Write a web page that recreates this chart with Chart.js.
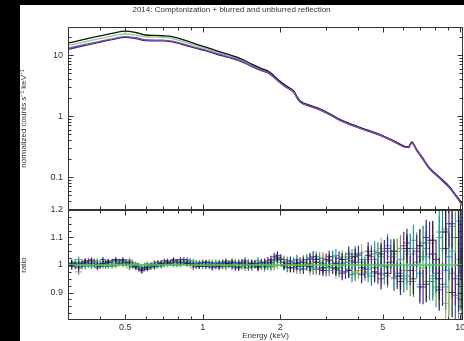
<!DOCTYPE html>
<html>
<head>
<meta charset="utf-8">
<script src="https://cdn.jsdelivr.net/npm/chart.js@4.4.0/dist/chart.umd.min.js"></script>
<style>
  html, body { margin: 0; padding: 0; background: #000; }
  #wrap { position: relative; width: 464px; height: 341px; overflow: hidden; }
  #paper { position: absolute; left: 20px; top: 5px; width: 444px; height: 336px; background: #fff; }
  canvas { position: absolute; left: 0; top: 0; }
</style>
</head>
<body>
<div id="wrap">
  <div id="paper"></div>
  <canvas id="spec" width="464" height="341"></canvas>
  <canvas id="ratio" width="464" height="341"></canvas>
</div>
<script>
// energy range shown on both panels (keV)
const energyRange = [0.307, 10.25];

// upper panel: unfolded spectra
const specEnergy = [0.3, 0.35, 0.4, 0.45, 0.5, 0.55, 0.6, 0.65, 0.7, 0.76, 0.85, 0.93, 1.02, 1.15, 1.25, 1.375, 1.55, 1.7, 1.8, 1.9, 1.96, 2.1, 2.26, 2.33, 2.4, 2.55, 2.79, 3.1, 3.42, 4.0, 4.88, 5.5, 6.09, 6.3, 6.48, 6.78, 7.1, 7.6, 8.3, 9.07, 9.6, 10.2, 10.5];
const specBlack = [15.6, 18.2, 20.6, 22.9, 24.7, 23.4, 21.3, 21.0, 20.7, 20.0, 17.5, 15.4, 13.6, 11.5, 10.3, 9.1, 7.1, 5.95, 5.42, 4.5, 3.98, 3.16, 2.55, 2.04, 1.74, 1.55, 1.36, 1.1, 0.875, 0.67, 0.497, 0.395, 0.318, 0.314, 0.376, 0.281, 0.213, 0.141, 0.1, 0.07, 0.051, 0.036, 0.029];
const specGreen = [14.2, 16.5, 18.6, 20.6, 22.1, 21.2, 19.9, 19.7, 19.5, 18.8, 16.3, 14.5, 12.9, 11.0, 9.9, 8.8, 6.9, 5.8, 5.3, 4.4, 3.9, 3.1, 2.5, 2.0, 1.71, 1.52, 1.34, 1.08, 0.86, 0.66, 0.49, 0.39, 0.314, 0.31, 0.371, 0.277, 0.21, 0.139, 0.098, 0.069, 0.05, 0.035, 0.028];
const specBlue = [12.4, 14.4, 16.3, 18.1, 19.5, 18.6, 17.2, 17.0, 17.0, 16.4, 14.6, 13.1, 11.8, 10.1, 9.2, 8.2, 6.5, 5.5, 5.05, 4.22, 3.76, 3.0, 2.43, 1.95, 1.67, 1.49, 1.31, 1.06, 0.845, 0.65, 0.482, 0.384, 0.309, 0.305, 0.364, 0.272, 0.206, 0.136, 0.096, 0.067, 0.049, 0.034, 0.027];
const specPurple = [12.9, 14.9, 16.8, 18.6, 20.1, 19.2, 17.8, 17.6, 17.5, 16.9, 15.0, 13.5, 12.1, 10.4, 9.4, 8.4, 6.6, 5.6, 5.12, 4.28, 3.8, 3.03, 2.45, 1.96, 1.68, 1.5, 1.32, 1.07, 0.85, 0.652, 0.485, 0.386, 0.311, 0.307, 0.367, 0.274, 0.208, 0.137, 0.097, 0.068, 0.0495, 0.0345, 0.0275];

// lower panel: data/model ratios, two interleaved binnings
const ratioEnergy = [0.31, 0.33, 0.35, 0.37, 0.39, 0.41, 0.43, 0.46, 0.49, 0.52, 0.55, 0.58, 0.61, 0.65, 0.69, 0.73, 0.77, 0.82, 0.87, 0.92, 0.97, 1.03, 1.09, 1.16, 1.23, 1.3, 1.38, 1.46, 1.55, 1.64, 1.74, 1.84, 1.95, 2.07, 2.19, 2.32, 2.46, 2.61, 2.76, 2.93, 3.1, 3.29, 3.48, 3.69, 3.91, 4.14, 4.39, 4.65, 4.93, 5.22, 5.53, 5.86, 6.21, 6.58, 6.97, 7.38, 7.82, 8.29, 8.78, 9.3, 9.85, 10.15];
const ratioErr = [0.012, 0.011, 0.01, 0.01, 0.009, 0.009, 0.009, 0.008, 0.008, 0.008, 0.008, 0.008, 0.008, 0.008, 0.008, 0.008, 0.008, 0.008, 0.008, 0.009, 0.009, 0.009, 0.01, 0.01, 0.01, 0.011, 0.011, 0.012, 0.012, 0.013, 0.014, 0.014, 0.015, 0.015, 0.016, 0.017, 0.018, 0.019, 0.02, 0.021, 0.022, 0.024, 0.025, 0.027, 0.029, 0.031, 0.033, 0.036, 0.039, 0.042, 0.045, 0.049, 0.052, 0.056, 0.06, 0.065, 0.07, 0.076, 0.082, 0.09, 0.1, 0.11];
const ratioA = [1.005, 0.99, 1.01, 1.015, 1.0, 1.005, 1.01, 1.02, 1.015, 1.01, 0.995, 0.985, 0.99, 1.0, 1.005, 1.01, 1.015, 1.01, 1.005, 1.0, 0.995, 1.01, 1.0, 0.995, 1.005, 1.01, 0.99, 1.0, 1.005, 0.995, 1.0, 1.01, 1.025, 1.0, 0.99, 1.005, 1.01, 0.995, 1.02, 0.99, 1.015, 0.985, 1.02, 0.98, 1.03, 0.99, 1.035, 0.975, 1.04, 0.97, 1.05, 0.96, 1.06, 0.95, 1.07, 0.93, 1.09, 0.95, 1.12, 0.9, 1.1, 0.95];
const ratioB = [1.0, 0.975, 1.005, 1.02, 1.01, 0.995, 1.005, 1.0, 1.01, 1.005, 1.0, 0.99, 0.995, 1.005, 1.01, 1.0, 1.005, 1.015, 1.0, 0.99, 1.005, 1.0, 1.01, 0.99, 1.0, 1.005, 1.0, 0.99, 1.01, 1.0, 0.995, 1.005, 1.03, 1.01, 1.0, 0.985, 1.015, 1.005, 0.99, 1.025, 0.98, 1.01, 0.975, 1.03, 1.0, 0.97, 1.02, 1.04, 0.965, 1.01, 0.955, 1.06, 0.98, 1.04, 0.93, 1.08, 0.96, 0.92, 1.13, 0.97, 0.88, 1.05];
const ratioC = [1.01, 1.02, 0.995, 1.0, 1.015, 1.01, 0.995, 1.005, 1.0, 0.99, 1.005, 0.975, 1.0, 1.01, 0.995, 1.005, 1.01, 1.0, 1.015, 1.005, 0.995, 1.0, 1.005, 1.01, 0.995, 1.0, 1.01, 1.005, 0.995, 1.01, 1.005, 0.995, 1.015, 1.02, 1.005, 0.995, 1.0, 1.02, 0.985, 1.005, 1.02, 0.99, 1.005, 1.025, 0.97, 1.01, 0.985, 1.02, 1.03, 0.96, 1.04, 0.97, 1.05, 0.94, 1.03, 1.06, 0.95, 1.1, 0.92, 1.14, 0.96, 1.08];
const ratioD = [0.995, 1.005, 1.015, 1.005, 0.99, 1.02, 1.01, 1.015, 1.02, 1.0, 0.99, 0.98, 0.985, 0.995, 1.0, 1.015, 1.02, 1.02, 1.01, 1.0, 1.005, 0.995, 0.99, 1.005, 1.01, 0.995, 1.005, 1.015, 1.0, 0.99, 1.01, 1.02, 1.035, 1.0, 1.015, 1.0, 0.985, 1.025, 1.01, 0.98, 1.03, 1.005, 0.97, 1.04, 1.01, 0.965, 1.05, 0.99, 0.95, 1.06, 1.0, 0.94, 1.08, 1.0, 0.92, 1.1, 1.04, 0.91, 1.06, 1.15, 0.93, 1.12];
const ratioE = [1.0, 1.01, 1.0, 0.995, 1.005, 1.0, 1.015, 1.01, 1.005, 1.015, 0.995, 0.99, 1.005, 0.99, 1.005, 1.01, 1.0, 1.005, 1.02, 1.01, 1.0, 1.005, 0.995, 1.0, 1.015, 1.005, 0.995, 1.0, 1.005, 1.015, 0.99, 1.0, 1.02, 0.995, 1.01, 1.02, 0.995, 0.99, 1.03, 1.0, 0.99, 1.035, 1.0, 0.985, 1.04, 1.02, 0.97, 1.05, 1.0, 1.07, 0.95, 1.02, 0.96, 1.09, 0.97, 1.03, 0.94, 1.12, 0.98, 1.05, 1.16, 0.9];
const ratioF = [1.005, 1.0, 1.01, 1.01, 0.995, 1.015, 1.0, 0.995, 1.005, 1.02, 1.0, 0.995, 0.99, 1.0, 1.01, 1.005, 1.01, 1.0, 1.005, 1.015, 1.01, 0.995, 1.005, 1.0, 0.99, 1.015, 1.005, 1.01, 0.99, 1.005, 1.01, 0.99, 1.0, 1.01, 0.99, 1.015, 1.02, 0.98, 1.01, 1.015, 0.995, 0.975, 1.03, 1.01, 0.975, 1.045, 0.99, 0.97, 1.06, 0.99, 1.03, 0.95, 1.04, 0.98, 1.07, 0.94, 1.08, 0.97, 0.86, 1.1, 1.02, 0.84];

const ratioEnergy2 = [0.32, 0.34, 0.36, 0.38, 0.40, 0.42, 0.445, 0.475, 0.505, 0.535, 0.565, 0.595, 0.63, 0.67, 0.71, 0.75, 0.795, 0.845, 0.895, 0.945, 1.0, 1.06, 1.125, 1.195, 1.265, 1.34, 1.42, 1.505, 1.595, 1.69, 1.79, 1.895, 2.01, 2.13, 2.255, 2.39, 2.535, 2.685, 2.845, 3.015, 3.195, 3.385, 3.585, 3.8, 4.025, 4.265, 4.52, 4.79, 5.075, 5.375, 5.695, 6.035, 6.395, 6.775, 7.175, 7.6, 8.055, 8.535, 9.04, 9.575, 10.0];
const ratioErr2 = [0.011, 0.01, 0.01, 0.009, 0.009, 0.009, 0.008, 0.008, 0.008, 0.008, 0.008, 0.008, 0.008, 0.008, 0.008, 0.008, 0.008, 0.008, 0.009, 0.009, 0.009, 0.01, 0.01, 0.01, 0.011, 0.011, 0.012, 0.012, 0.013, 0.013, 0.014, 0.015, 0.015, 0.016, 0.017, 0.018, 0.019, 0.02, 0.021, 0.022, 0.023, 0.025, 0.026, 0.028, 0.03, 0.032, 0.035, 0.038, 0.041, 0.044, 0.047, 0.05, 0.054, 0.058, 0.063, 0.068, 0.073, 0.079, 0.086, 0.095, 0.105];
const ratioG = [1.0, 1.005, 1.015, 1.0, 0.995, 1.01, 1.015, 1.005, 1.01, 1.0, 0.985, 0.99, 1.0, 1.01, 1.015, 1.005, 1.01, 1.02, 1.005, 0.995, 1.01, 1.0, 0.995, 1.01, 1.005, 0.99, 1.01, 1.0, 1.005, 1.01, 1.015, 1.03, 1.02, 1.005, 0.99, 1.01, 1.0, 1.03, 0.985, 1.02, 0.99, 1.025, 0.975, 1.015, 1.04, 0.985, 1.03, 0.97, 1.05, 1.01, 0.96, 1.07, 0.98, 1.05, 0.92, 1.09, 1.02, 0.93, 1.15, 0.95, 1.06];
const ratioH = [1.01, 0.995, 1.0, 1.01, 1.005, 0.995, 1.0, 1.01, 1.005, 0.995, 1.0, 0.985, 0.995, 1.0, 1.005, 1.01, 1.0, 1.01, 1.015, 1.005, 0.995, 1.01, 1.005, 0.995, 1.0, 1.01, 1.005, 0.99, 1.0, 1.005, 0.995, 1.015, 1.025, 0.99, 1.01, 0.995, 1.02, 0.985, 1.01, 0.98, 1.03, 0.99, 1.01, 0.965, 1.035, 1.0, 0.96, 1.045, 0.995, 1.05, 0.97, 0.95, 1.06, 1.01, 1.08, 0.94, 0.97, 1.12, 1.03, 0.89, 1.08];
const ratioI = [0.995, 1.01, 1.005, 1.015, 1.0, 1.005, 0.995, 1.015, 1.0, 1.01, 0.995, 1.0, 0.99, 0.995, 1.0, 1.005, 1.015, 1.005, 1.0, 1.01, 1.0, 0.995, 1.01, 1.0, 1.005, 1.0, 0.995, 1.01, 1.005, 0.995, 1.005, 0.995, 1.01, 1.015, 1.0, 0.985, 1.005, 1.01, 1.025, 0.99, 1.005, 0.98, 1.02, 1.03, 0.98, 0.975, 1.04, 1.0, 0.97, 1.03, 1.05, 0.98, 0.94, 1.06, 0.99, 1.04, 0.92, 1.06, 0.9, 1.1, 0.94];
const modelRatio = 1;

// ticks
const xMajor = [0.5, 1, 2, 5, 10];
const xMinor = [0.4, 0.6, 0.7, 0.8, 0.9, 3, 4, 6, 7, 8, 9];
const ySpecMajor = [0.1, 1, 10];
const ySpecMinor = [0.03, 0.04, 0.05, 0.06, 0.07, 0.08, 0.09, 0.2, 0.3, 0.4, 0.5, 0.6, 0.7, 0.8, 0.9, 2, 3, 4, 5, 6, 7, 8, 9, 20];
const yRatioMajor = [0.9, 1, 1.1, 1.2];
const yRatioMinor = [0.825, 0.85, 0.875, 0.925, 0.95, 0.975, 1.025, 1.05, 1.075, 1.125, 1.15, 1.175];

const FONT = "'Liberation Sans', Arial, sans-serif";
const INK = '#333';

function points(xs, ys) {
    return xs.map((x, i) => ({x: x, y: ys[i]}));
}

// frame with inward tick marks on all four sides
function frameTicks(yMajor, yMinor) {
    return {
        id: 'frameTicks',
        afterDraw(chart) {
            const ctx = chart.ctx;
            const a = chart.chartArea;
            const xs = chart.scales.x, ys = chart.scales.y;
            const L = Math.round(a.left) + 0.5, R = Math.round(a.right) - 0.5;
            const T = Math.round(a.top) + 0.5, B = Math.round(a.bottom) - 0.5;
            ctx.save();
            ctx.strokeStyle = INK;
            ctx.lineWidth = 1;
            ctx.strokeRect(L, T, R - L, B - T);
            ctx.beginPath();
            const vx = (vals, len) => vals.forEach(v => {
                const p = Math.round(xs.getPixelForValue(v)) + 0.5;
                if (p < L || p > R) return;
                ctx.moveTo(p, T); ctx.lineTo(p, T + len);
                ctx.moveTo(p, B); ctx.lineTo(p, B - len);
            });
            const vy = (vals, len) => vals.forEach(v => {
                const p = Math.round(ys.getPixelForValue(v)) + 0.5;
                if (p < T || p > B) return;
                ctx.moveTo(L, p); ctx.lineTo(L + len, p);
                ctx.moveTo(R, p); ctx.lineTo(R - len, p);
            });
            vx(xMajor, 5); vx(xMinor, 3);
            vy(yMajor, 5); vy(yMinor, 3);
            ctx.stroke();
            ctx.restore();
        }
    };
}

// error crosses for the ratio data
const errorCrosses = {
    id: 'errorCrosses',
    beforeDatasetsDraw(chart) {
        const ctx = chart.ctx;
        const a = chart.chartArea;
        const xs = chart.scales.x, ys = chart.scales.y;
        ctx.save();
        ctx.beginPath();
        ctx.rect(a.left, a.top, a.right - a.left, a.bottom - a.top);
        ctx.clip();
        chart.data.datasets.forEach(ds => {
            if (!ds.errors) return;
            ctx.strokeStyle = ds.borderColor;
            ctx.lineWidth = 1.2;
            ctx.beginPath();
            ds.data.forEach((pt, i) => {
                const px = xs.getPixelForValue(pt.x);
                ctx.moveTo(px, ys.getPixelForValue(pt.y + ds.errors[i]));
                ctx.lineTo(px, ys.getPixelForValue(pt.y - ds.errors[i]));
            });
            ctx.stroke();
            ctx.lineWidth = 0.8;
            ctx.beginPath();
            ds.data.forEach((pt, i) => {
                const e0 = i > 0 ? Math.sqrt(ds.data[i - 1].x * pt.x) : pt.x * 0.97;
                const e1 = i < ds.data.length - 1 ? Math.sqrt(ds.data[i + 1].x * pt.x) : pt.x * 1.03;
                const py = ys.getPixelForValue(pt.y);
                ctx.moveTo(xs.getPixelForValue(e0), py);
                ctx.lineTo(xs.getPixelForValue(e1), py);
            });
            ctx.stroke();
        });
        ctx.restore();
    }
};

const lineStyle = {pointRadius: 0, borderWidth: 1.3, fill: false, cubicInterpolationMode: 'monotone'};

new Chart(document.getElementById('spec'), {
    type: 'line',
    data: {
        datasets: [
            Object.assign({data: points(specEnergy, specPurple), borderColor: '#8a4aa8'}, lineStyle),
            Object.assign({data: points(specEnergy, specBlue), borderColor: '#26268a'}, lineStyle),
            Object.assign({data: points(specEnergy, specBlack), borderColor: '#111111'}, lineStyle),
            Object.assign({data: points(specEnergy, specGreen), borderColor: '#86d486'}, lineStyle)
        ]
    },
    options: {
        responsive: false,
        animation: false,
        events: [],
        layout: {padding: {left: 0, right: 1, top: 0, bottom: 131}},
        plugins: {
            legend: {display: false},
            tooltip: {enabled: false},
            title: {
                display: true,
                text: '2014: Comptonization + blurred and unblurred reflection',
                color: INK,
                font: {family: FONT, size: 8, weight: 'normal'},
                padding: {top: 5, bottom: 12.4}
            }
        },
        scales: {
            x: {type: 'logarithmic', min: energyRange[0], max: energyRange[1], display: false},
            y: {
                type: 'logarithmic',
                min: 0.0288,
                max: 28.8,
                afterFit: s => { s.width = 68; s.paddingTop = 0; s.paddingBottom = 0; },
                afterBuildTicks: s => { s.ticks = ySpecMajor.map(v => ({value: v})); },
                grid: {display: false, drawTicks: false},
                border: {display: false},
                ticks: {
                    color: INK, padding: 5, autoSkip: false,
                    font: {family: FONT, size: 9},
                    callback: v => String(v)
                },
                title: {
                    display: true,
                    text: 'normalized counts s\u207B\u00B9 keV\u207B\u00B9',
                    color: INK,
                    font: {family: FONT, size: 8},
                    padding: {top: 19, bottom: 0}
                }
            }
        }
    },
    plugins: [frameTicks(ySpecMajor, ySpecMinor)]
});

const ratioStyle = {type: 'scatter', pointRadius: 0, showLine: false};

new Chart(document.getElementById('ratio'), {
    type: 'scatter',
    data: {
        datasets: [
            Object.assign({data: points(ratioEnergy, ratioF), borderColor: '#bba67a', errors: ratioErr}, ratioStyle),
            Object.assign({data: points(ratioEnergy, ratioB), borderColor: '#b8707f', errors: ratioErr}, ratioStyle),
            Object.assign({data: points(ratioEnergy2, ratioI), borderColor: '#6f9a3e', errors: ratioErr2}, ratioStyle),
            Object.assign({data: points(ratioEnergy, ratioC), borderColor: '#3f9a5a', errors: ratioErr}, ratioStyle),
            Object.assign({data: points(ratioEnergy2, ratioH), borderColor: '#1f7f8a', errors: ratioErr2}, ratioStyle),
            Object.assign({data: points(ratioEnergy, ratioE), borderColor: '#2a9a9a', errors: ratioErr}, ratioStyle),
            Object.assign({data: points(ratioEnergy2, ratioG), borderColor: '#5a2a7a', errors: ratioErr2}, ratioStyle),
            Object.assign({data: points(ratioEnergy, ratioD), borderColor: '#2b2b9a', errors: ratioErr}, ratioStyle),
            Object.assign({data: points(ratioEnergy, ratioA), borderColor: '#1c1c3a', errors: ratioErr}, ratioStyle),
            {
                type: 'line',
                data: [{x: energyRange[0], y: modelRatio}, {x: energyRange[1], y: modelRatio}],
                borderColor: '#44d444',
                borderWidth: 1.5,
                pointRadius: 0,
                fill: false
            }
        ]
    },
    options: {
        responsive: false,
        animation: false,
        events: [],
        layout: {padding: {left: 0, right: 1, top: 210, bottom: 0}},
        plugins: {legend: {display: false}, tooltip: {enabled: false}},
        scales: {
            x: {
                type: 'logarithmic',
                min: energyRange[0],
                max: energyRange[1],
                afterFit: s => { s.height = 21; s.paddingLeft = 0; s.paddingRight = 0; },
                afterBuildTicks: s => { s.ticks = xMajor.map(v => ({value: v})); },
                grid: {display: false, drawTicks: false},
                border: {display: false},
                ticks: {
                    color: INK, padding: 2, autoSkip: false, maxRotation: 0,
                    font: {family: FONT, size: 9},
                    callback: v => String(v)
                },
                title: {
                    display: true,
                    text: 'Energy (keV)',
                    color: INK,
                    font: {family: FONT, size: 8},
                    padding: {top: 0, bottom: 0}
                }
            },
            y: {
                type: 'linear',
                min: 0.8,
                max: 1.2,
                afterFit: s => { s.width = 68; s.paddingTop = 0; s.paddingBottom = 0; },
                afterBuildTicks: s => { s.ticks = yRatioMajor.map(v => ({value: v})); },
                grid: {display: false, drawTicks: false},
                border: {display: false},
                ticks: {
                    color: INK, padding: 5, autoSkip: false,
                    font: {family: FONT, size: 9},
                    callback: v => String(Math.round(v * 10) / 10)
                },
                title: {
                    display: true,
                    text: 'ratio',
                    color: INK,
                    font: {family: FONT, size: 8},
                    padding: {top: 19, bottom: 0}
                }
            }
        }
    },
    plugins: [errorCrosses, frameTicks(yRatioMajor, yRatioMinor)]
});
</script>
</body>
</html>
